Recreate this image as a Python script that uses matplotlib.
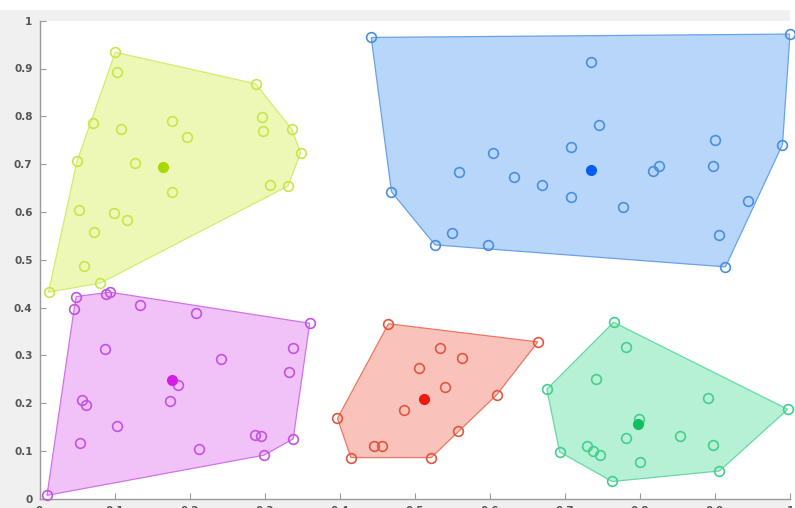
import matplotlib
matplotlib.use("Agg")
import matplotlib.pyplot as plt
from matplotlib.patches import Rectangle, Polygon
import numpy as np

# Cluster members (x, y) and cluster centres
yellow_x = [0.101, 0.103, 0.288, 0.297, 0.298, 0.336, 0.348, 0.307, 0.331, 0.071,
            0.109, 0.177, 0.197, 0.050, 0.127, 0.177, 0.053, 0.099, 0.117, 0.073,
            0.059, 0.012, 0.081]
yellow_y = [0.934, 0.893, 0.868, 0.798, 0.769, 0.773, 0.724, 0.656, 0.654, 0.785,
            0.773, 0.790, 0.757, 0.706, 0.703, 0.641, 0.604, 0.598, 0.583, 0.558,
            0.487, 0.432, 0.451]
yellow_c = (0.165, 0.693)

blue_x = [0.442, 1.000, 0.735, 0.746, 0.900, 0.990, 0.604, 0.708, 0.826, 0.818,
          0.898, 0.559, 0.632, 0.669, 0.708, 0.778, 0.944, 0.469, 0.550, 0.527,
          0.597, 0.906, 0.914]
blue_y = [0.965, 0.972, 0.914, 0.782, 0.750, 0.741, 0.723, 0.736, 0.697, 0.685,
          0.695, 0.684, 0.674, 0.656, 0.632, 0.610, 0.623, 0.642, 0.556, 0.531,
          0.531, 0.552, 0.485]
blue_c = (0.735, 0.688)

magenta_x = [0.010, 0.049, 0.046, 0.089, 0.094, 0.134, 0.209, 0.360, 0.338, 0.332,
             0.242, 0.087, 0.185, 0.174, 0.056, 0.062, 0.103, 0.054, 0.212, 0.287,
             0.295, 0.338, 0.299]
magenta_y = [0.007, 0.423, 0.396, 0.429, 0.432, 0.405, 0.388, 0.367, 0.316, 0.266,
             0.292, 0.313, 0.237, 0.205, 0.206, 0.195, 0.152, 0.117, 0.105, 0.134,
             0.131, 0.125, 0.091]
magenta_c = (0.176, 0.249)

red_x = [0.465, 0.664, 0.534, 0.563, 0.505, 0.540, 0.609, 0.486, 0.397, 0.557,
         0.446, 0.457, 0.415, 0.522]
red_y = [0.366, 0.328, 0.316, 0.294, 0.273, 0.234, 0.217, 0.185, 0.168, 0.142,
         0.110, 0.110, 0.086, 0.086]
red_c = (0.512, 0.208)

green_x = [0.765, 0.781, 0.741, 0.676, 0.891, 0.997, 0.799, 0.782, 0.854, 0.897,
           0.730, 0.738, 0.747, 0.693, 0.800, 0.906, 0.763]
green_y = [0.369, 0.317, 0.251, 0.229, 0.211, 0.187, 0.167, 0.126, 0.131, 0.112,
           0.110, 0.100, 0.092, 0.098, 0.076, 0.058, 0.036]
green_c = (0.798, 0.156)

ticks = [0, 0.1, 0.2, 0.3, 0.4, 0.5, 0.6, 0.7, 0.8, 0.9, 1]
tick_labels = ["0", "0.1", "0.2", "0.3", "0.4", "0.5", "0.6", "0.7", "0.8", "0.9", "1"]

# (members x, members y, centre, hull fill, hull edge, marker edge, centre colour)
clusters = [
    (yellow_x, yellow_y, yellow_c, "#eef8b6", "#d2ec70", "#c6e64a", "#a8d800"),
    (blue_x, blue_y, blue_c, "#b8d6fa", "#6aa2e6", "#4a8ee0", "#0a5cf0"),
    (magenta_x, magenta_y, magenta_c, "#f1c2f8", "#d272ea", "#c452e2", "#d21ee8"),
    (red_x, red_y, red_c, "#f9c3bb", "#ea7763", "#e2553f", "#ee1a10"),
    (green_x, green_y, green_c, "#b6f1d6", "#66d9a4", "#44cf8e", "#10c060"),
]


def convex_hull(xs, ys):
    pts = sorted(set(zip(xs, ys)))

    def cross(o, a, b):
        return (a[0] - o[0]) * (b[1] - o[1]) - (a[1] - o[1]) * (b[0] - o[0])

    lower, upper = [], []
    for p in pts:
        while len(lower) >= 2 and cross(lower[-2], lower[-1], p) <= 0:
            lower.pop()
        lower.append(p)
    for p in reversed(pts):
        while len(upper) >= 2 and cross(upper[-2], upper[-1], p) <= 0:
            upper.pop()
        upper.append(p)
    return lower[:-1] + upper[:-1]


fig = plt.figure(figsize=(7.95, 5.08), dpi=100, facecolor="white")
# light grey window background behind the axes
fig.patches.append(Rectangle((0, 0), 790 / 795, 498 / 508, transform=fig.transFigure,
                             facecolor="#f0f0f0", edgecolor="none", zorder=-10))

ax = fig.add_axes([39.5 / 795, 9.3 / 508, 750.5 / 795, 478 / 508])
ax.set_zorder(5)
ax.set_facecolor("white")

for xs, ys, c, fill, hull_edge, edge, centre in clusters:
    hull = convex_hull(xs, ys)
    ax.add_patch(Polygon(hull, closed=True, facecolor=fill, edgecolor=hull_edge,
                         linewidth=0.9, zorder=1))
    ax.plot(xs, ys, linestyle="none", marker="o", markersize=7,
            markerfacecolor="none", markeredgecolor=edge, markeredgewidth=1.2, zorder=3,
            clip_on=False)
    ax.plot([c[0]], [c[1]], linestyle="none", marker="o", markersize=7,
            markerfacecolor=centre, markeredgecolor=centre, zorder=4)

ax.set_xlim(0, 1)
ax.set_ylim(0, 1)
ax.set_xticks(ticks)
ax.set_xticklabels(tick_labels)
ax.set_yticks(ticks)
ax.set_yticklabels(tick_labels)
for s in ["top", "right"]:
    ax.spines[s].set_visible(False)
for s in ["left", "bottom"]:
    ax.spines[s].set_color("#9a9a9a")
    ax.spines[s].set_linewidth(1.0)
ax.tick_params(direction="in", length=4, width=0.8, color="#9a9a9a",
               labelsize=7.5, labelcolor="#555555", pad=5)
for lbl in ax.get_xticklabels() + ax.get_yticklabels():
    lbl.set_fontweight("bold")

fig.savefig("out.png", dpi=100, facecolor=fig.get_facecolor())
